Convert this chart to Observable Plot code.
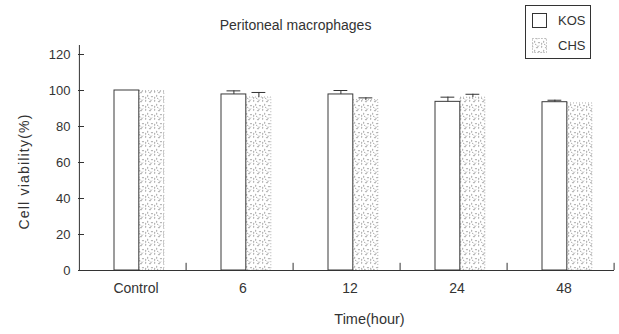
<!DOCTYPE html>
<html>
<head>
<meta charset="utf-8">
<script src="https://cdn.jsdelivr.net/npm/d3@7"></script>
<script src="https://cdn.jsdelivr.net/npm/@observablehq/plot@0.6"></script>
<style>
  html, body { margin: 0; padding: 0; background: #fff; }
  #chart { width: 619px; height: 334px; }
</style>
</head>
<body>
<div id="chart"></div>
<script>
// ---- data ----
const categories = ["Control", "6", "12", "24", "48"];
const kos    = [100, 97.8, 97.8, 93.7, 93.5];
const kosErr = [0,   2.0,  2.2,  2.6,  1.1];
const chs    = [99.6, 96.1, 94.6, 96.0, 92.8];
const chsErr = [0,    2.8,  1.3,  1.9,  0];
const yTicks = [0, 20, 40, 60, 80, 100, 120];
const series = ["KOS", "CHS"];
const title = "Peritoneal macrophages";
const xLabel = "Time(hour)";
const yLabel = "Cell viability(%)";

const rows = categories.map((c, i) => ({cat: c, kos: kos[i], kosErr: kosErr[i], chs: chs[i], chsErr: chsErr[i]}));

// ---- layout ----
const W = 619, H = 334;
const mL = 78, mR = 5, mT = 45, mB = 64;
const bw = (W - mL - mR) / categories.length; // band width
const barW = 25, off = 35; // KOS starts at band offset 35, CHS at 60
const capW = 14;
const font = "'Liberation Sans', Arial, Helvetica, sans-serif";
const ink = "#333";
const kosC = off + barW / 2, chsC = off + barW * 1.5;

const plot = Plot.plot({
  width: W, height: H,
  marginLeft: mL, marginRight: mR, marginTop: mT, marginBottom: mB,
  style: {fontFamily: font, fontSize: "13px", color: ink, background: "white"},
  x: {domain: categories, padding: 0, label: null},
  y: {domain: [0, 125], label: null},
  marks: [
    Plot.axisY(yTicks, {tickSize: 0, tickPadding: 8, fontSize: 13}),
    Plot.axisX({tickSize: 0, tickPadding: 13, fontSize: 14, dx: 3}),
    // CHS stippled bars
    Plot.barY(rows, {x: "cat", y: "chs", insetLeft: off + barW, insetRight: bw - off - 2 * barW,
      fill: "url(#stip)", stroke: "#9a9a9a", strokeWidth: 0.8, strokeDasharray: "1,2"}),
    // KOS open bars
    Plot.barY(rows, {x: "cat", y: "kos", insetLeft: off, insetRight: bw - off - barW,
      fill: "white", stroke: "#3a3a3a", strokeWidth: 1}),
    // error bars
    Plot.ruleX(rows.filter(d => d.kosErr > 0), {x: "cat", y1: "kos", y2: d => d.kos + d.kosErr, dx: kosC - bw / 2, stroke: ink}),
    Plot.tickY(rows.filter(d => d.kosErr > 0), {x: "cat", y: d => d.kos + d.kosErr, insetLeft: kosC - capW / 2, insetRight: bw - kosC - capW / 2, stroke: ink}),
    Plot.ruleX(rows.filter(d => d.chsErr > 0), {x: "cat", y1: "chs", y2: d => d.chs + d.chsErr, dx: chsC - bw / 2, stroke: ink}),
    Plot.tickY(rows.filter(d => d.chsErr > 0), {x: "cat", y: d => d.chs + d.chsErr, insetLeft: chsC - capW / 2, insetRight: bw - chsC - capW / 2, stroke: ink}),
    // axis lines
    Plot.ruleY([0], {stroke: ink}),
    Plot.ruleX([categories[0]], {x: d => d, dx: -bw / 2, y1: 0, y2: 125, stroke: ink}),
    Plot.ruleY(yTicks, {y: d => d, insetRight: W - mL - mR - 6, stroke: ink}),
    // group separator ticks
    Plot.ruleX(categories, {x: d => d, dx: bw / 2 - 0.5, y1: 0, y2: 4, stroke: ink}),
    // titles
    Plot.text([title], {frameAnchor: "top-left", textAnchor: "middle", dx: 295 - mL, dy: -25, fontSize: 14, fill: ink}),
    Plot.text([xLabel], {frameAnchor: "bottom-left", textAnchor: "middle", dx: 369 - mL, dy: 53, fontSize: 14.5, fill: ink}),
    Plot.text([yLabel], {frameAnchor: "top-left", textAnchor: "middle", dx: 19 - mL, dy: 171 - mT, rotate: -90, fontSize: 14, fill: ink})
  ]
});

// stipple pattern
const svg = d3.select(plot);
const defs = svg.insert("defs", ":first-child");
const pat = defs.append("pattern").attr("id", "stip").attr("patternUnits", "userSpaceOnUse")
  .attr("width", 9).attr("height", 9);
pat.append("rect").attr("width", 9).attr("height", 9).attr("fill", "white");
const flecks = [[1,1],[5,2],[3,5],[7,6],[1,7],[6,0.5],[4,8]];
flecks.forEach(([x, y], i) => {
  pat.append("path")
    .attr("d", i % 2 ? `M${x},${y}l1,1.2l1,-1.2` : `M${x},${y}l1.2,0.8l-1.2,0.8`)
    .attr("fill", "none").attr("stroke", "#808080").attr("stroke-width", 0.6);
});

// stretch the y label slightly, like the scanned original
svg.selectAll("text").filter(function () { return this.textContent === yLabel; })
  .style("letter-spacing", "1.2px");

// legend
const lg = svg.append("g").attr("font-family", font).attr("font-size", 13)
  .attr("fill", ink).attr("text-anchor", "start");
lg.append("rect").attr("x", 525.5).attr("y", 5.5).attr("width", 65).attr("height", 53)
  .attr("fill", "white").attr("stroke", ink);
series.forEach((s, i) => {
  lg.append("rect").attr("x", 532.5).attr("y", 13.5 + i * 25).attr("width", 14).attr("height", 14)
    .attr("fill", i === 0 ? "white" : "url(#stip)")
    .attr("stroke", i === 0 ? ink : "#9a9a9a")
    .attr("stroke-dasharray", i === 0 ? null : "1,2");
  lg.append("text").attr("x", 558).attr("y", 20.5 + i * 25).attr("dy", "0.35em")
    .attr("text-anchor", "start").text(s);
});

document.getElementById("chart").appendChild(plot);
</script>
</body>
</html>
